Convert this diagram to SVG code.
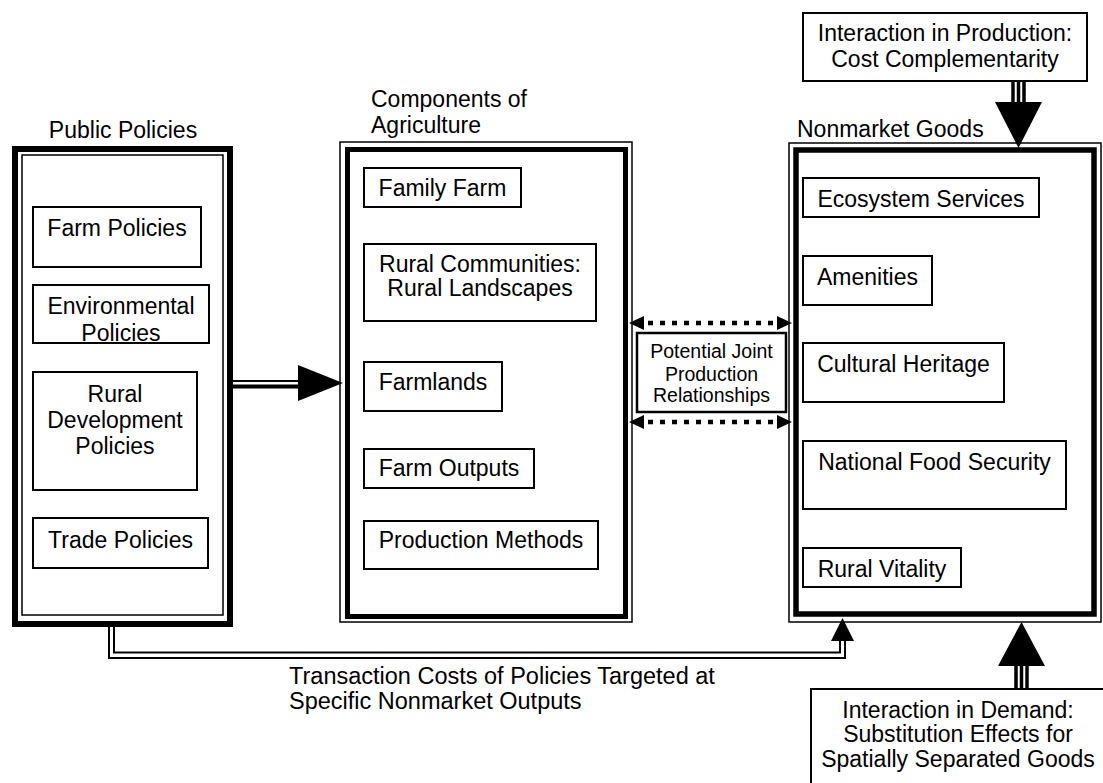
<svg xmlns="http://www.w3.org/2000/svg" width="1103" height="783" viewBox="0 0 1103 783">
<style>
text { font-family: "Liberation Sans", Arial, Helvetica, sans-serif; font-size: 23px; fill: #000; }
.c { text-anchor: middle; }
.box { fill: #fff; stroke: #000; stroke-width: 2; }
.thin { fill: none; stroke: #000; stroke-width: 1.5; }
.thick { fill: none; stroke: #000; stroke-width: 6; }
.ln { fill: none; stroke: #000; stroke-width: 2; }
.tri { fill: none; stroke: #000; stroke-width: 3.5; }
.dot { fill: none; stroke: #000; stroke-width: 4.5; stroke-dasharray: 5 7; }
.head { fill: #000; stroke: none; }
.small { font-size: 19.5px; }
</style>
<rect width="1103" height="783" fill="#fff"/>

<g id="public-policies">
  <text class="c" x="123" y="138">Public Policies</text>
  <rect class="thick" x="15" y="149" width="215" height="475"/>
  <rect class="thin" x="22" y="155" width="201" height="460"/>
  <g id="farm-policies">
    <rect class="box" x="33" y="207" width="168" height="60"/>
    <text class="c" x="117" y="236">Farm Policies</text>
  </g>
  <g id="environmental-policies">
    <rect class="box" x="33" y="285" width="176" height="58"/>
    <text class="c" x="121" y="314">Environmental</text>
    <text class="c" x="121" y="341">Policies</text>
  </g>
  <g id="rural-development-policies">
    <rect class="box" x="33" y="372" width="164" height="118"/>
    <text class="c" x="115" y="402">Rural</text>
    <text class="c" x="115" y="428">Development</text>
    <text class="c" x="115" y="454">Policies</text>
  </g>
  <g id="trade-policies">
    <rect class="box" x="33" y="518" width="175" height="50"/>
    <text class="c" x="120.5" y="548">Trade Policies</text>
  </g>
</g>

<g id="components-of-agriculture">
  <text x="371" y="107">Components of</text>
  <text x="371" y="133">Agriculture</text>
  <rect class="thin" x="340" y="142" width="292" height="480"/>
  <rect class="thick" x="347.5" y="149.5" width="278" height="467" style="stroke-width:5"/>
  <g id="family-farm">
    <rect class="box" x="364" y="168" width="157" height="39"/>
    <text class="c" x="442.5" y="196">Family Farm</text>
  </g>
  <g id="rural-communities">
    <rect class="box" x="364" y="244" width="232" height="77"/>
    <text class="c" x="480" y="272">Rural Communities:</text>
    <text class="c" x="480" y="296">Rural Landscapes</text>
  </g>
  <g id="farmlands">
    <rect class="box" x="364" y="362" width="138" height="49"/>
    <text class="c" x="433" y="390">Farmlands</text>
  </g>
  <g id="farm-outputs">
    <rect class="box" x="364" y="449" width="170" height="39"/>
    <text class="c" x="449" y="476">Farm Outputs</text>
  </g>
  <g id="production-methods">
    <rect class="box" x="364" y="521" width="234" height="48"/>
    <text class="c" x="481" y="548">Production Methods</text>
  </g>
</g>

<g id="nonmarket-goods">
  <text x="797" y="137">Nonmarket Goods</text>
  <rect class="thin" x="789" y="143" width="312" height="479"/>
  <rect class="thick" x="796" y="150" width="298" height="464" style="stroke-width:5.5"/>
  <g id="ecosystem-services">
    <rect class="box" x="803" y="178" width="236" height="39"/>
    <text class="c" x="921" y="207">Ecosystem Services</text>
  </g>
  <g id="amenities">
    <rect class="box" x="803" y="256" width="129" height="49"/>
    <text class="c" x="867.5" y="285">Amenities</text>
  </g>
  <g id="cultural-heritage">
    <rect class="box" x="803" y="343" width="201" height="59"/>
    <text class="c" x="903.5" y="372">Cultural Heritage</text>
  </g>
  <g id="national-food-security">
    <rect class="box" x="803" y="441" width="263" height="68"/>
    <text class="c" x="934.5" y="470">National Food Security</text>
  </g>
  <g id="rural-vitality">
    <rect class="box" x="803" y="548" width="158" height="39"/>
    <text class="c" x="882" y="577">Rural Vitality</text>
  </g>
</g>

<g id="potential-joint-production">
  <rect class="box" x="637" y="333" width="149" height="79" style="stroke-width:2.5"/>
  <text class="c small" x="711.5" y="358">Potential Joint</text>
  <text class="c small" x="711.5" y="381">Production</text>
  <text class="c small" x="711.5" y="402">Relationships</text>
</g>

<g id="interaction-production">
  <rect class="box" x="803" y="13" width="284" height="68"/>
  <text class="c" x="945" y="41">Interaction in Production:</text>
  <text class="c" x="945" y="67">Cost Complementarity</text>
</g>

<g id="interaction-demand">
  <rect class="box" x="811" y="689" width="300" height="104"/>
  <text class="c" x="958" y="718">Interaction in Demand:</text>
  <text class="c" x="958" y="742">Substitution Effects for</text>
  <text class="c" x="958" y="767">Spatially Separated Goods</text>
</g>

<g id="transaction-costs-label">
  <text x="289" y="684" style="font-size:23.5px">Transaction Costs of Policies Targeted at</text>
  <text x="289" y="709" style="font-size:23.5px">Specific Nonmarket Outputs</text>
</g>

<g id="connectors">
  <!-- policies to components -->
  <line class="ln" x1="233" y1="381" x2="302" y2="381"/>
  <line class="ln" x1="233" y1="386.5" x2="302" y2="386.5" style="stroke-width:4"/>
  <polygon class="head" points="298,365 343,383 298,401"/>
  <!-- joint production dotted double arrows -->
  <line class="dot" x1="648" y1="323" x2="773" y2="323"/>
  <polygon class="head" points="629,323 644,316 644,330"/>
  <polygon class="head" points="792,323 777,316 777,330"/>
  <line class="dot" x1="648" y1="422" x2="773" y2="422"/>
  <polygon class="head" points="629,422 644,415 644,429"/>
  <polygon class="head" points="792,422 777,415 777,429"/>
  <!-- production interaction arrow -->
  <line class="tri" x1="1013" y1="81" x2="1013" y2="103"/>
  <line class="tri" x1="1018.5" y1="81" x2="1018.5" y2="103"/>
  <line class="tri" x1="1024" y1="81" x2="1024" y2="103"/>
  <polygon class="head" points="995,102 1042,102 1018.5,148"/>
  <!-- demand interaction arrow -->
  <line class="tri" x1="1016" y1="665" x2="1016" y2="689"/>
  <line class="tri" x1="1021.5" y1="665" x2="1021.5" y2="689"/>
  <line class="tri" x1="1027" y1="665" x2="1027" y2="689"/>
  <polygon class="head" points="998,666 1045,666 1021.5,622"/>
  <!-- transaction costs connector -->
  <path class="ln" d="M109,627 V658 H845 V639"/>
  <path class="ln" d="M114,627 V652.5 H840 V639"/>
  <polygon class="head" points="831,641 854,641 842.5,618"/>
</g>
</svg>
